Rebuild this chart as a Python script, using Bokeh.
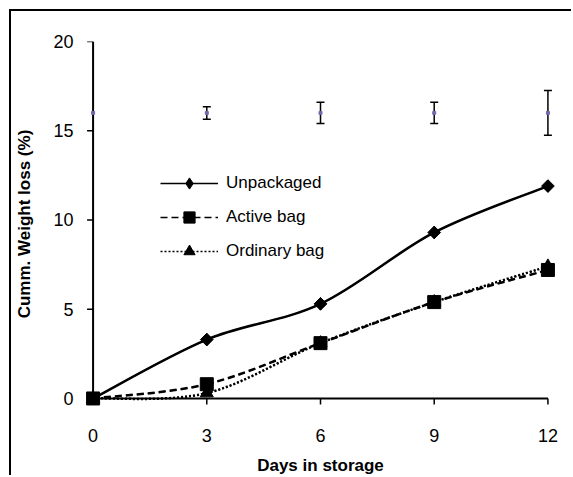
import numpy as np
from bokeh.plotting import figure
from bokeh.models import (ColumnDataSource, Whisker, TeeHead, Legend, LegendItem,
                          FixedTicker, Range1d)
from bokeh.embed import file_html
from bokeh.resources import INLINE

days = [0, 3, 6, 9, 12]
unpackaged = [0.0, 3.3, 5.3, 9.3, 11.9]
active_bag = [0.0, 0.8, 3.1, 5.4, 7.2]
ordinary_bag = [0.0, 0.3, 3.1, 5.4, 7.4]
err_center = [16.0, 16.0, 16.0, 16.0, 16.0]
err_size = [0.0, 0.35, 0.6, 0.6, 1.25]
y_ticks = [0, 5, 10, 15, 20]
x_ticks = [0, 3, 6, 9, 12]

FONT = "Liberation Sans"

p = figure(width=562, height=466, output_backend="svg", toolbar_location=None,
           x_range=Range1d(-0.2, 12.2), y_range=Range1d(-0.45, 20),
           min_border_left=74, min_border_top=30, min_border_right=18, min_border_bottom=70)
p.styles = {"border-left": "2px solid black", "border-top": "2px solid black",
            "margin-left": "9px", "margin-top": "9px"}
p.outline_line_color = None
p.grid.visible = False
p.background_fill_color = "white"
p.border_fill_color = "white"

# axis lines and outward ticks drawn at x=0 / y=0
x0v, y0v = x_ticks[0], y_ticks[0]
p.segment(x0=[x0v, x0v], y0=[y0v, y0v], x1=[x_ticks[-1], x0v], y1=[y0v, y_ticks[-1]],
          line_color="black", line_width=2)
p.ray(x=x_ticks, y=[y0v] * len(x_ticks), length=6, length_units="screen",
      angle=-np.pi / 2, line_color="black", line_width=1.5)
p.ray(x=[x0v] * len(y_ticks), y=y_ticks, length=6, length_units="screen",
      angle=np.pi, line_color="black", line_width=1.5)


def smooth(xs, ys, t=1/6.0):
    xs = np.asarray(xs, float)
    ys = np.asarray(ys, float)
    n = len(xs)
    px = np.concatenate([[xs[0]], xs, [xs[-1]]])
    py = np.concatenate([[ys[0]], ys, [ys[-1]]])
    cx0 = px[1:n] + (px[2:n+1] - px[0:n-1]) * t
    cy0 = py[1:n] + (py[2:n+1] - py[0:n-1]) * t
    cx1 = px[2:n+1] - (px[3:n+2] - px[1:n]) * t
    cy1 = py[2:n+1] - (py[3:n+2] - py[1:n]) * t
    return dict(x0=xs[:-1], y0=ys[:-1], x1=xs[1:], y1=ys[1:],
                cx0=cx0, cy0=cy0, cx1=cx1, cy1=cy1)


series = [
    ("Unpackaged", unpackaged, None, "diamond"),
    ("Active bag", active_bag, "7 4", "square"),
    ("Ordinary bag", ordinary_bag, "2 2", "triangle"),
]

thin = []
for name, vals, dash, marker in series:
    b = ColumnDataSource(smooth(days, vals))
    kw_thin = dict(line_color="black", line_width=1.3)
    kw = dict(line_color="black", line_width=2.5)
    if dash:
        kw["line_dash"] = dash
        kw_thin["line_dash"] = dash
    # thin copy (hidden under the thick curve) used for the legend swatch
    t = p.bezier(x0="x0", y0="y0", x1="x1", y1="y1", cx0="cx0", cy0="cy0",
                 cx1="cx1", cy1="cy1", source=b, **kw_thin)
    p.bezier(x0="x0", y0="y0", x1="x1", y1="y1", cx0="cx0", cy0="cy0",
             cx1="cx1", cy1="cy1", source=b, **kw)
    thin.append(t)

items = []
for (name, vals, dash, marker), cr in zip(series, thin):
    if marker == "diamond":
        sr = p.scatter(days, vals, marker="diamond", size=12,
                       fill_color="black", line_color="black")
        p.scatter(days, vals, marker="square", size=9, angle=np.pi / 4,
                  fill_color="black", line_color="black")
    elif marker == "square":
        sr = p.scatter(days, vals, marker="square", size=13,
                       fill_color="black", line_color="black")
    else:
        sr = p.scatter(days, vals, marker="triangle", size=13,
                       fill_color="black", line_color="black")
    items.append(LegendItem(label=name, renderers=[cr, sr]))

# error bars
mask = np.asarray(err_size) > 0
ex = np.asarray(days)[mask]
ec = np.asarray(err_center)[mask]
es = np.asarray(err_size)[mask]
wsrc = ColumnDataSource(dict(x=ex, upper=ec + es, lower=ec - es))
w = Whisker(base="x", upper="upper", lower="lower", source=wsrc,
            line_color="black", line_width=1.5,
            upper_head=TeeHead(size=8, line_color="black", line_width=1.5),
            lower_head=TeeHead(size=8, line_color="black", line_width=1.5))
p.add_layout(w)
p.scatter(days, err_center, marker="square", size=3,
          fill_color="#7566aa", line_color="#7566aa")

legend = Legend(items=items, location=(75, 141), orientation="vertical",
                glyph_width=58, glyph_height=28, label_height=28, spacing=6,
                padding=0, margin=0, label_standoff=8,
                border_line_color=None, background_fill_alpha=0,
                label_text_font=FONT, label_text_font_size="17px",
                label_text_color="black")
p.add_layout(legend)

for ax in (p.xaxis[0], p.yaxis[0]):
    ax.axis_line_color = None
    ax.major_tick_line_color = None
    ax.major_tick_in = 0
    ax.major_tick_out = 0
    ax.minor_tick_line_color = None
    ax.major_label_text_font = FONT
    ax.major_label_text_font_size = "18px"
    ax.major_label_text_color = "black"
    ax.axis_label_text_font = FONT
    ax.axis_label_text_font_style = "bold"
    ax.axis_label_text_font_size = "17px"
    ax.axis_label_text_color = "black"

p.xaxis[0].ticker = FixedTicker(ticks=x_ticks)
p.yaxis[0].ticker = FixedTicker(ticks=y_ticks)
p.xaxis[0].axis_label = "Days in storage"
p.yaxis[0].axis_label = "Cumm. Weight loss (%)"
p.xaxis[0].major_label_standoff = 22
p.xaxis[0].axis_label_standoff = 11
p.yaxis[0].major_label_standoff = 12
p.yaxis[0].axis_label_standoff = 16

open("out.html", "w").write(file_html(p, INLINE))
